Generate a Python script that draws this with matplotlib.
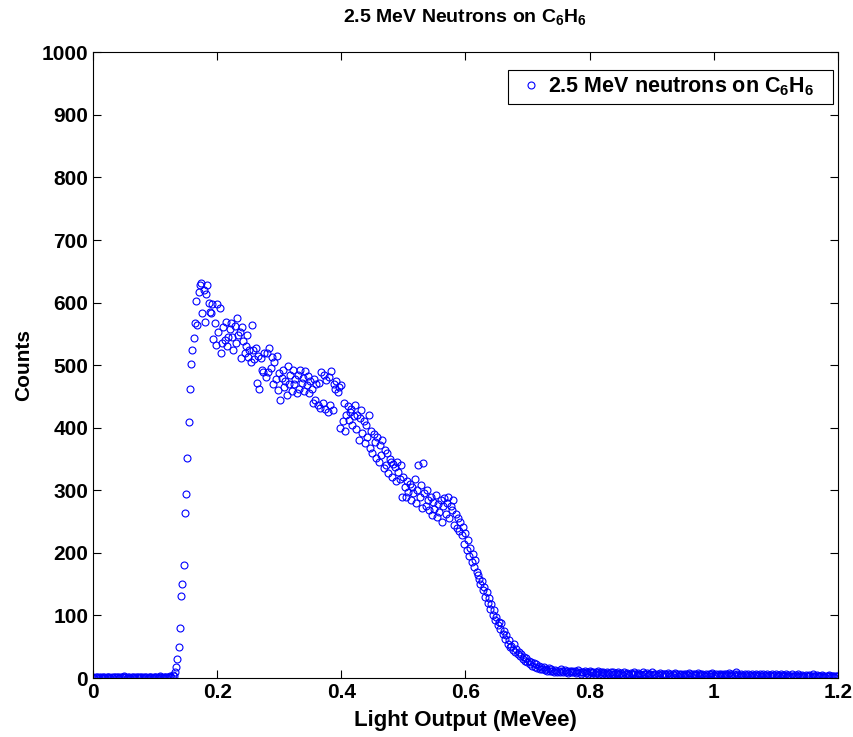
import numpy as np
import matplotlib
matplotlib.use("Agg")
import matplotlib.pyplot as plt

plt.rcParams['font.family'] = ['Liberation Sans', 'DejaVu Sans']
plt.rcParams['font.weight'] = 'bold'
plt.rcParams['mathtext.fontset'] = 'custom'
plt.rcParams['mathtext.rm'] = 'Liberation Sans:bold'
plt.rcParams['mathtext.default'] = 'rm'

# bin width of the light output channels (MeVee)
bin_w = 0.002

# counts, 0.000 - 0.128 MeVee
counts_low = [1, 0, 1, 2, 0, 1, 1, 0, 2, 1,
              0, 1, 1, 2, 0, 1, 0, 1, 1, 2,
              1, 0, 2, 1, 1, 3, 1, 0, 1, 2,
              0, 1, 1, 0, 2, 1, 1, 0, 1, 1,
              2, 0, 1, 1, 0, 2, 1, 1, 0, 1,
              1, 2, 0, 1, 3, 1, 0, 2, 1, 1,
              2, 1, 3, 2, 5]

# counts, 0.130 - 0.748 MeVee
counts_peak = [4, 10, 18, 30, 50, 80, 131, 150, 181, 263,
               294, 351, 409, 462, 502, 524, 544, 567, 602, 564,
               617, 628, 632, 584, 620, 569, 614, 628, 600, 585,
               583, 597, 542, 567, 532, 598, 553, 591, 519, 535,
               561, 540, 569, 530, 545, 558, 567, 545, 524, 562,
               535, 575, 548, 553, 511, 561, 538, 519, 530, 548,
               513, 525, 505, 564, 524, 510, 527, 471, 515, 462,
               511, 492, 489, 520, 481, 519, 489, 527, 495, 513,
               470, 505, 478, 515, 460, 487, 444, 480, 492, 465,
               475, 452, 498, 470, 485, 458, 492, 470, 478, 455,
               485, 462, 492, 472, 480, 458, 490, 468, 482, 455,
               475, 462, 440, 478, 445, 470, 436, 472, 432, 489,
               440, 485, 430, 476, 425, 481, 436, 490, 428, 470,
               462, 475, 457, 465, 400, 468, 410, 439, 395, 420,
               435, 412, 425, 430, 405, 418, 437, 398, 420, 380,
               415, 428, 392, 410, 375, 405, 385, 420, 368, 395,
               360, 390, 378, 352, 385, 345, 372, 356, 380, 335,
               365, 340, 360, 328, 350, 345, 322, 342, 338, 315,
               346, 330, 318, 340, 290, 322, 305, 290, 315, 298,
               310, 285, 305, 295, 318, 280, 300, 340, 290, 308,
               272, 343, 295, 275, 300, 285, 268, 290, 260, 282,
               270, 292, 258, 278, 265, 285, 250, 275, 288, 262,
               280, 290, 255, 275, 268, 285, 245, 262, 240, 255,
               235, 250, 228, 242, 215, 232, 205, 220, 195, 208,
               185, 198, 178, 188, 170, 165, 158, 150, 155, 140,
               145, 130, 138, 120, 128, 110, 118, 100, 108, 92,
               98, 85, 90, 78, 88, 70, 75, 62, 68, 55,
               60, 50, 52, 45, 55, 42, 46, 38, 42, 35,
               38, 30, 34, 28, 32, 25, 28, 22, 26, 20,
               24, 18, 22, 16, 20, 15, 18, 14, 17, 13,
               15, 12, 16, 11, 14, 12, 10, 13, 11, 9]

# counts, 0.750 - 1.200 MeVee
counts_tail = [12, 10, 14, 11, 9, 13, 10, 12, 8, 11,
               10, 12, 9, 11, 8, 10, 13, 9, 7, 10,
               9, 11, 8, 10, 7, 12, 9, 8, 10, 7,
               9, 8, 11, 7, 9, 6, 10, 8, 7, 9,
               8, 6, 9, 7, 10, 6, 8, 7, 9, 6,
               8, 7, 5, 9, 6, 8, 7, 5, 8, 6,
               7, 9, 6, 5, 8, 6, 7, 5, 9, 6,
               6, 8, 5, 7, 6, 9, 5, 7, 6, 4,
               7, 5, 8, 6, 4, 7, 6, 5, 8, 5,
               6, 4, 7, 5, 8, 6, 4, 6, 5, 7,
               5, 7, 4, 6, 5, 8, 6, 4, 7, 5,
               6, 5, 8, 4, 6, 5, 7, 5, 4, 6,
               5, 7, 4, 6, 8, 5, 4, 6, 5, 7,
               4, 6, 5, 7, 4, 6, 5, 8, 4, 6,
               5, 7, 4, 10, 6, 5, 4, 7, 5, 4,
               6, 5, 4, 7, 5, 3, 6, 4, 5, 6,
               4, 5, 7, 4, 3, 6, 5, 4, 6, 3,
               5, 4, 6, 3, 5, 7, 4, 5, 3, 6,
               4, 5, 3, 6, 4, 5, 3, 4, 6, 4,
               3, 5, 4, 6, 3, 4, 5, 3, 4, 5,
               4, 3, 5, 4, 3, 6, 4, 3, 5, 3,
               4, 3, 5, 3, 4, 2, 4, 3, 5, 3,
               3, 4, 2, 3, 4, 3]

counts = np.array(counts_low + counts_peak + counts_tail)
light = np.arange(len(counts)) * bin_w

xticks = [0, 0.2, 0.4, 0.6, 0.8, 1, 1.2]
xticklabels = ['0', '0.2', '0.4', '0.6', '0.8', '1', '1.2']
yticks = np.arange(0, 1001, 100)

fig = plt.figure(figsize=(8.54, 7.37), dpi=100)
ax = fig.add_axes([0.109, 0.080, 0.872, 0.849])

ax.plot(light, counts, 'o', mfc='none', mec='#0000ff', ms=5, mew=0.8,
        label='2.5 MeV neutrons on C$_6$H$_6$   ')

ax.set_xlim(0, 1.2)
ax.set_ylim(0, 1000)
ax.set_xticks(xticks)
ax.set_xticklabels(xticklabels)
ax.set_yticks(yticks)
ax.tick_params(direction='in', top=True, right=True, length=6, labelsize=15)
for s in ax.spines.values():
    s.set_linewidth(0.8)

ax.set_xlabel('Light Output (MeVee)', fontsize=16, fontweight='bold', labelpad=6)
ax.set_ylabel('Counts', fontsize=15, fontweight='bold', labelpad=6)
ax.set_title('2.5 MeV Neutrons on C$_6$H$_6$', fontsize=14, fontweight='bold', pad=22)

leg = ax.legend(loc='upper right', bbox_to_anchor=(0.9933, 0.9712), borderaxespad=0,
                fontsize=15.5, fancybox=False, framealpha=1, edgecolor='black',
                handletextpad=0.0, borderpad=0.25, handlelength=1.6)
leg.get_frame().set_linewidth(0.8)

fig.savefig('out.png', dpi=100)
